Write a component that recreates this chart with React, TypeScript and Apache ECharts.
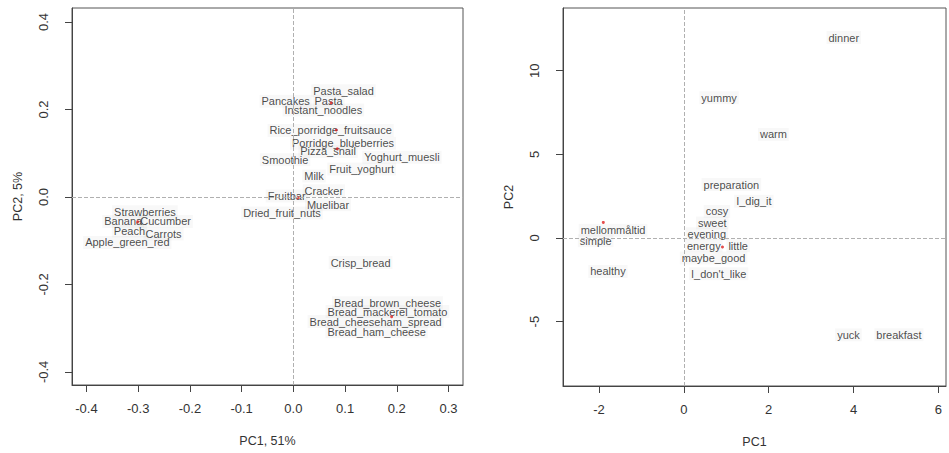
import React, { useEffect, useRef } from "react";
import * as echarts from "echarts";

// Left panel: foods
const foodNames = [
  "Pasta_salad", "Pancakes", "Pasta", "Instant_noodles", "Rice_porridge_fruitsauce",
  "Porridge_blueberries", "Pizza_snail", "Yoghurt_muesli", "Smoothie", "Fruit_yoghurt",
  "Milk", "Cracker", "Fruitbar", "Muelibar", "Dried_fruit_nuts",
  "Strawberries", "Banana", "Cucumber", "Peach", "Carrots", "Apple_green_red",
  "Crisp_bread", "Bread_brown_cheese", "Bread_mackerel_tomato", "Bread_cheeseham_spread", "Bread_ham_cheese",
];
const foodPC1 = [
  0.097, -0.015, 0.068, 0.058, 0.072,
  0.096, 0.067, 0.210, -0.016, 0.132,
  0.040, 0.059, -0.013, 0.067, -0.022,
  -0.287, -0.329, -0.247, -0.317, -0.251, -0.321,
  0.130, 0.182, 0.182, 0.159, 0.161,
];
const foodPC2 = [
  0.243, 0.219, 0.219, 0.199, 0.152,
  0.123, 0.104, 0.091, 0.085, 0.064,
  0.048, 0.014, 0.002, -0.018, -0.037,
  -0.034, -0.056, -0.056, -0.078, -0.085, -0.104,
  -0.150, -0.242, -0.262, -0.285, -0.308,
];
const foodDotsPC1 = [0.073, 0.083, 0.085, 0.009, -0.301, 0.190];
const foodDotsPC2 = [0.215, 0.153, 0.110, -0.002, -0.057, -0.274];

// Right panel: words
const wordNames = [
  "dinner", "yummy", "warm", "preparation", "I_dig_it", "cosy", "sweet", "evening",
  "energy", "little", "maybe_good", "I_don't_like", "mellommåltid", "simple", "healthy",
  "yuck", "breakfast",
];
const wordPC1 = [3.77, 0.83, 2.11, 1.12, 1.65, 0.78, 0.67, 0.54, 0.47, 1.28, 0.70, 0.82, -1.67, -2.08, -1.79, 3.88, 5.07];
const wordPC2 = [11.98, 8.38, 6.19, 3.19, 2.19, 1.59, 0.90, 0.26, -0.46, -0.46, -1.20, -2.14, 0.46, -0.16, -2.0, -5.79, -5.79];
const wordDotsPC1 = [-1.90, 0.91];
const wordDotsPC2 = [0.93, -0.54];

// Tick labels
const leftXTicks = [-0.4, -0.3, -0.2, -0.1, 0, 0.1, 0.2, 0.3];
const leftYTicks = [-0.4, -0.2, 0, 0.2, 0.4];
const rightXTicks = [-2, 0, 2, 4, 6];
const rightYTicks = [-5, 0, 5, 10];

const FONT = "'Liberation Sans', Arial, sans-serif";

export default function App() {
  const ref = useRef<HTMLDivElement>(null);
  useEffect(() => {
    if (!ref.current) return;
    const chart = echarts.init(ref.current, undefined, { renderer: "svg" });

    const axisCommon = {
      type: "value" as const,
      splitLine: { show: false },
      axisLine: { show: true, onZero: false, lineStyle: { color: "#444", width: 1 } },
      axisTick: { show: true, length: 7, lineStyle: { color: "#444" } },
      nameLocation: "middle" as const,
      nameTextStyle: { fontFamily: FONT, fontSize: 12.5, color: "#333" },
    };
    const xLabel = (ticks: number[], dec: number) => ({
      show: true,
      customValues: ticks,
      fontFamily: FONT,
      fontSize: 13,
      color: "#333",
      margin: 17,
      formatter: (v: number) => v.toFixed(dec),
    });
    const yLabel = (ticks: number[], dec: number) => ({
      show: true,
      customValues: ticks,
      rotate: 90,
      fontFamily: FONT,
      fontSize: 13,
      color: "#333",
      margin: 22,
      formatter: (v: number) => v.toFixed(dec),
    });

    const textLabel = {
      show: true,
      position: "inside" as const,
      formatter: (p: any) => p.name,
      fontFamily: FONT,
      fontSize: 11,
      color: "#1a1a1a",
      backgroundColor: "rgba(0,0,0,0.035)",
      padding: [1, 2],
    };
    const zeroLines = {
      silent: true,
      symbol: ["none", "none"],
      label: { show: false },
      lineStyle: { type: "dashed" as const, color: "#b0b0b0", width: 1 },
      data: [{ xAxis: 0 }, { yAxis: 0 }],
    };

    chart.setOption({
      animation: false,
      backgroundColor: "#fff",
      grid: [
        { left: 72, right: 486, top: 8, bottom: 68, show: true, borderColor: "#555", borderWidth: 1, backgroundColor: "transparent" },
        { left: 563, right: 3, top: 8, bottom: 67, show: true, borderColor: "#555", borderWidth: 1, backgroundColor: "transparent" },
      ],
      xAxis: [
        { ...axisCommon, gridIndex: 0, min: -0.428, max: 0.328, name: "PC1, 51%", nameGap: 49,
          axisLabel: xLabel(leftXTicks, 1), axisTick: { ...axisCommon.axisTick, customValues: leftXTicks } },
        { ...axisCommon, gridIndex: 1, min: -2.85, max: 6.18, name: "PC1", nameGap: 49,
          axisLabel: xLabel(rightXTicks, 0), axisTick: { ...axisCommon.axisTick, customValues: rightXTicks } },
      ],
      yAxis: [
        { ...axisCommon, gridIndex: 0, min: -0.43, max: 0.432, name: "PC2, 5%", nameGap: 48,
          axisLabel: yLabel(leftYTicks, 1), axisTick: { ...axisCommon.axisTick, customValues: leftYTicks } },
        { ...axisCommon, gridIndex: 1, min: -8.85, max: 13.75, name: "PC2", nameGap: 48,
          axisLabel: yLabel(rightYTicks, 0), axisTick: { ...axisCommon.axisTick, customValues: rightYTicks } },
      ],
      series: [
        {
          type: "scatter", xAxisIndex: 0, yAxisIndex: 0, symbolSize: 0,
          data: foodNames.map((n, i) => ({ name: n, value: [foodPC1[i], foodPC2[i]] })),
          label: textLabel, markLine: zeroLines, z: 3,
        },
        {
          type: "scatter", xAxisIndex: 0, yAxisIndex: 0, symbolSize: 3,
          itemStyle: { color: "#d22" },
          data: foodDotsPC1.map((x, i) => [x, foodDotsPC2[i]]), z: 4,
        },
        {
          type: "scatter", xAxisIndex: 1, yAxisIndex: 1, symbolSize: 0,
          data: wordNames.map((n, i) => ({ name: n, value: [wordPC1[i], wordPC2[i]] })),
          label: textLabel, markLine: zeroLines, z: 3,
        },
        {
          type: "scatter", xAxisIndex: 1, yAxisIndex: 1, symbolSize: 3,
          itemStyle: { color: "#d22" },
          data: wordDotsPC1.map((x, i) => [x, wordDotsPC2[i]]), z: 4,
        },
      ],
    });
    return () => chart.dispose();
  }, []);
  return <div ref={ref} style={{ width: 949, height: 453, position: "absolute", left: 0, top: 0 }} />;
}
